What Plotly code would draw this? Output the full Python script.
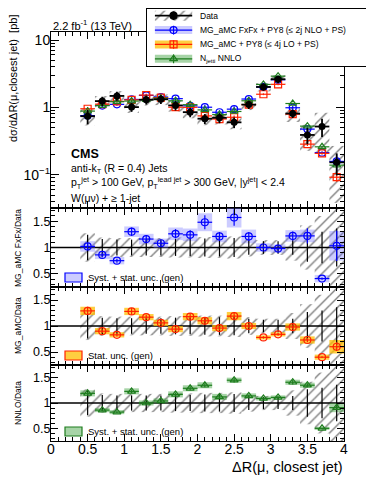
import plotly.graph_objects as go

# bins in Delta R (mu, closest jet), width 0.2
dr_centers = [0.5, 0.7, 0.9, 1.1, 1.3, 1.5, 1.7, 1.9, 2.1, 2.3, 2.5, 2.7, 2.9, 3.1, 3.3, 3.5, 3.7, 3.9]
bin_width = 0.2

# measured cross section [pb] and relative uncertainties
data_xsec = [0.74, 1.24, 1.48, 1.01, 1.30, 1.32, 1.07, 0.85, 0.68, 0.70, 0.60, 1.10, 2.01, 2.62, 0.81, 0.39, 0.52, 0.153]
data_stat = [0.24, 0.16, 0.15, 0.15, 0.15, 0.15, 0.16, 0.16, 0.17, 0.17, 0.18, 0.14, 0.12, 0.12, 0.14, 0.27, 0.30, 0.36]
data_syst = [0.27, 0.19, 0.18, 0.18, 0.18, 0.18, 0.19, 0.19, 0.20, 0.20, 0.21, 0.17, 0.14, 0.14, 0.25, 0.42, 0.60, 0.75]

# predictions [pb]
fxfx_xsec = [0.755, 1.066, 1.11, 1.313, 1.508, 1.426, 1.348, 1.054, 1.006, 0.847, 0.942, 1.331, 2.01, 2.568, 0.988, 0.476, 0.213, 0.158]
mg_xsec = [0.955, 1.116, 1.228, 1.293, 1.521, 1.399, 1.006, 1.003, 0.748, 0.672, 0.714, 1.10, 1.568, 2.20, 0.794, 0.285, 0.208, 0.092]
nnlo_xsec = [0.881, 1.066, 1.214, 1.242, 1.30, 1.373, 1.252, 1.097, 0.918, 0.784, 0.87, 1.254, 2.19, 2.91, 1.142, 0.527, 0.26, 0.139]

# prediction stat errors (relative) and uncertainty bands (ratio units)
fxfx_err = [0.07, 0.05, 0.05, 0.06, 0.06, 0.05, 0.07, 0.07, 0.09, 0.07, 0.10, 0.07, 0.04, 0.04, 0.07, 0.12, 0.05, 0.28]
mg_err = [0.06, 0.04, 0.04, 0.05, 0.04, 0.04, 0.05, 0.05, 0.06, 0.05, 0.06, 0.05, 0.03, 0.03, 0.05, 0.06, 0.04, 0.14]
nnlo_err = [0.03, 0.02, 0.02, 0.03, 0.02, 0.02, 0.03, 0.03, 0.03, 0.03, 0.03, 0.02, 0.02, 0.02, 0.03, 0.03, 0.02, 0.05]
fxfx_band = [0.10, 0.08, 0.07, 0.10, 0.10, 0.09, 0.12, 0.12, 0.17, 0.11, 0.19, 0.13, 0.08, 0.08, 0.11, 0.12, 0.07, 0.28]
mg_band = [0.08, 0.06, 0.05, 0.07, 0.06, 0.06, 0.06, 0.07, 0.07, 0.06, 0.08, 0.06, 0.04, 0.04, 0.07, 0.07, 0.05, 0.13]
nnlo_band = [0.06, 0.04, 0.04, 0.06, 0.05, 0.05, 0.06, 0.06, 0.06, 0.06, 0.05, 0.05, 0.04, 0.04, 0.05, 0.05, 0.03, 0.09]

# the page body has an 8px margin, so the figure is 8px smaller than the window
OFF = 8
W, H = 374 - OFF, 484 - OFF
FONT = "Liberation Sans, Arial, Helvetica, sans-serif"
BLUE, RED, GREEN = "#0000ff", "#ff2200", "#1e7d1e"
BLUE_F, ORANGE_F, GREEN_F = "rgba(110,110,255,0.35)", "rgba(255,190,0,0.75)", "rgba(60,160,60,0.45)"


def px(x):
    return (x - OFF) / W


def py(y):
    return 1 - (y - OFF) / H


hatch = dict(shape="/", fgcolor="#000000", bgcolor="rgba(0,0,0,0)", size=7, solidity=0.2)
nb = len(dr_centers)

fig = go.Figure()

# ---- main panel
fig.add_trace(go.Bar(x=dr_centers, y=[2 * d * s for d, s in zip(data_xsec, data_syst)],
                     base=[d * (1 - s) for d, s in zip(data_xsec, data_syst)], width=bin_width,
                     marker=dict(color="rgba(0,0,0,0)", line=dict(width=0), pattern=hatch),
                     xaxis="x", yaxis="y", showlegend=False))

preds = [("fxfx", fxfx_xsec, fxfx_err, fxfx_band, BLUE, BLUE_F, "circle-open", "x2", "y2"),
         ("mg", mg_xsec, mg_err, mg_band, RED, ORANGE_F, "square-open", "x3", "y3"),
         ("nnlo", nnlo_xsec, nnlo_err, nnlo_band, GREEN, GREEN_F, "triangle-up-open", "x4", "y4")]

for name, vals, err, band, col, fcol, sym, xa, ya in preds:
    fig.add_trace(go.Scatter(x=dr_centers, y=vals, mode="markers",
                             marker=dict(symbol=sym, size=7, color=col, line=dict(width=1.2, color=col)),
                             error_x=dict(type="constant", value=bin_width / 2, width=0, thickness=1.2, color=col),
                             error_y=dict(type="data", array=[v * e for v, e in zip(vals, err)], width=0,
                                          thickness=1.2, color=col),
                             xaxis="x", yaxis="y", showlegend=False))

fig.add_trace(go.Scatter(x=dr_centers, y=data_xsec, mode="markers",
                         marker=dict(symbol="circle", size=7, color="black"),
                         error_x=dict(type="constant", value=bin_width / 2, width=0, thickness=1.8, color="black"),
                         error_y=dict(type="data", array=[d * s for d, s in zip(data_xsec, data_stat)], width=0,
                                      thickness=1.8, color="black"),
                         xaxis="x", yaxis="y", showlegend=False))

# ---- ratio panels
for name, vals, err, band, col, fcol, sym, xa, ya in preds:
    ratio = [v / d for v, d in zip(vals, data_xsec)]
    fig.add_trace(go.Bar(x=dr_centers, y=[2 * s for s in data_syst], base=[1 - s for s in data_syst],
                         width=bin_width, marker=dict(color="rgba(0,0,0,0)", line=dict(width=0), pattern=hatch),
                         xaxis=xa, yaxis=ya, showlegend=False))
    fig.add_trace(go.Bar(x=dr_centers, y=[2 * b for b in band], base=[r - b for r, b in zip(ratio, band)],
                         width=bin_width, marker=dict(color=fcol, line=dict(width=0)),
                         xaxis=xa, yaxis=ya, showlegend=False))
    fig.add_trace(go.Scatter(x=dr_centers, y=[1] * nb, mode="markers", marker=dict(size=1, color="black"),
                             error_y=dict(type="data", array=data_stat, width=0, thickness=1.2, color="black"),
                             xaxis=xa, yaxis=ya, showlegend=False))
    rsym = "circle-open" if name != "nnlo" else sym
    fig.add_trace(go.Scatter(x=dr_centers, y=ratio, mode="markers",
                             marker=dict(symbol=rsym, size=7, color=col, line=dict(width=1.2, color=col)),
                             error_x=dict(type="constant", value=bin_width / 2, width=0, thickness=1.2, color=col),
                             error_y=dict(type="data", array=[r * e for r, e in zip(ratio, err)], width=0,
                                          thickness=1.2, color=col),
                             xaxis=xa, yaxis=ya, showlegend=False))
    fig.add_shape(type="line", xref=xa, yref=ya, x0=0, x1=4, y0=1, y1=1,
                  line=dict(color="black", width=1.3), layer="below")

# ---- legend (drawn on a helper axis so the box covers the frame)
leg_rows = [3.5, 2.5, 1.5, 0.5]
leg_labels = ["Data", "MG_aMC FxFx + PY8 (\u2264 2j NLO + PS)", "MG_aMC + PY8 (\u2264 4j LO + PS)",
              "N<sub>jetti</sub> NNLO"]
fig.add_trace(go.Bar(x=[0.5], y=[4], base=[0], width=[1], marker=dict(color="white", line=dict(width=0)),
                     xaxis="x5", yaxis="y5", showlegend=False, hoverinfo="skip"))
sx0, sx1 = 0.035, 0.2
sxc = (sx0 + sx1) / 2
fig.add_trace(go.Bar(x=[sxc], y=[0.7], base=[leg_rows[0] - 0.35], width=[sx1 - sx0],
                     marker=dict(color="rgba(0,0,0,0)", line=dict(width=0), pattern=hatch),
                     xaxis="x5", yaxis="y5", showlegend=False, hoverinfo="skip"))
leg_styles = [("black", None, "circle", 1.8)] + [(p[4], p[5], p[6], 1.2) for p in preds]
for row, (col, fcol, sym, lw) in zip(leg_rows, leg_styles):
    if fcol:
        fig.add_trace(go.Bar(x=[sxc], y=[0.56], base=[row - 0.28], width=[sx1 - sx0],
                             marker=dict(color=fcol, line=dict(width=0)),
                             xaxis="x5", yaxis="y5", showlegend=False, hoverinfo="skip"))
    fig.add_trace(go.Scatter(x=[sx0, sx1], y=[row, row], mode="lines", line=dict(color=col, width=lw),
                             xaxis="x5", yaxis="y5", showlegend=False, hoverinfo="skip"))
    fig.add_trace(go.Scatter(x=[sxc], y=[row], mode="markers",
                             marker=dict(symbol=sym, size=7, color=col, line=dict(width=1.2, color=col)),
                             error_y=dict(type="constant", value=0.3, width=0, thickness=lw, color=col),
                             xaxis="x5", yaxis="y5", showlegend=False, hoverinfo="skip"))
for row, lab in zip(leg_rows, leg_labels):
    fig.add_annotation(x=0.225, y=row, xref="x5", yref="y5", text=lab, showarrow=False,
                       xanchor="left", yanchor="middle", font=dict(size=8.5, family=FONT, color="black"))

# ---- axes
XD = [px(51), px(344)]
doms = {"": [py(208), py(32)], "2": [py(287), py(208)], "3": [py(365), py(287)], "4": [py(441), py(365)]}
for k, dom in doms.items():
    fig.update_layout(**{
        "xaxis" + k: dict(domain=XD, anchor="y" + k, range=[0, 4], dtick=0.5, tick0=0, ticks="inside",
                          ticklen=7, tickcolor="black", mirror="allticks", showline=True, linecolor="black",
                          linewidth=1, showgrid=False, zeroline=False, showticklabels=(k == "4"),
                          automargin=False, ticklabelstandoff=-5,
                          tickfont=dict(size=14, family=FONT, color="black"),
                          minor=dict(dtick=0.1, ticks="inside", ticklen=4, tickcolor="black", showgrid=False)),
    })
    if k == "":
        minor_vals = [m * 10.0 ** e for e in (-2, -1, 0, 1) for m in range(2, 10)]
        fig.update_layout(yaxis=dict(domain=dom, anchor="x", type="log", range=[-1.493, 1.119],
                                     tickmode="array", tickvals=[0.1, 1, 10],
                                     ticktext=["10<sup>\u22121</sup>", "1", "10"], ticks="inside", ticklen=8,
                                     tickcolor="black", mirror="allticks", showline=True, linecolor="black",
                                     linewidth=1, showgrid=False, zeroline=False, automargin=False,
                                     ticklabelstandoff=-3,
                                     tickfont=dict(size=14, family=FONT, color="black"),
                                     minor=dict(tickmode="array", tickvals=minor_vals, ticks="inside", ticklen=4,
                                                tickcolor="black", showgrid=False)))
    else:
        fig.update_layout(**{
            "yaxis" + k: dict(domain=dom, anchor="x" + k, range=[0.25, 1.75], dtick=0.5, tick0=0,
                              ticks="inside", ticklen=7, tickcolor="black", mirror="allticks", showline=True,
                              linecolor="black", linewidth=1, showgrid=False, zeroline=False, automargin=False,
                              ticklabelstandoff=-3,
                              tickfont=dict(size=12.5, family=FONT, color="black"),
                              minor=dict(dtick=0.1, ticks="inside", ticklen=4, tickcolor="black", showgrid=False)),
        })

fig.update_layout(
    xaxis5=dict(domain=[px(147), px(373)], anchor="y5", range=[0, 1], showline=True, mirror=True,
                linecolor="black", linewidth=1, showticklabels=False, ticks="", showgrid=False, zeroline=False,
                fixedrange=True, automargin=False),
    yaxis5=dict(domain=[py(66), py(8.5)], anchor="x5", range=[0, 4], showline=True, mirror=True,
                linecolor="black", linewidth=1, showticklabels=False, ticks="", showgrid=False, zeroline=False,
                fixedrange=True, automargin=False),
)

# ---- ratio panel band keys
keys = [(py(282), py(273), BLUE_F, BLUE, "Syst. + stat. unc. (gen)", 277.5),
        (py(360), py(351), ORANGE_F, RED, "Stat. unc. (gen)", 355.5),
        (py(436), py(427), GREEN_F, GREEN, "Syst. + stat. unc. (gen)", 431.5)]
for y0, y1, fcol, lcol, txt, yc in keys:
    fig.add_shape(type="rect", xref="paper", yref="paper", x0=px(65), x1=px(82), y0=y0, y1=y1,
                  fillcolor=fcol, line=dict(color=lcol, width=1.2))
    fig.add_annotation(x=px(86), y=py(yc), xref="paper", yref="paper", text=txt, showarrow=False,
                       xanchor="left", yanchor="middle", font=dict(size=9.5, family=FONT, color="black"))

# ---- texts
texts = [
    (px(51), py(25.5), "2.2 fb<sup>-1</sup> (13 TeV)", 11, "left"),
    (px(69), py(154), "<b>CMS</b>", 12.5, "left"),
    (px(69), py(169), "anti-k<sub>T</sub> (R = 0.4) Jets", 10.5, "left"),
    (px(69), py(183), "p<sub>T</sub><sup>jet</sup> > 100 GeV, p<sub>T</sub><sup>lead jet</sup> > 300 GeV, "
                      "|y<sup>jet</sup>| < 2.4", 10.5, "left"),
    (px(69), py(198), "W(\u03bc\u03bd) + \u2265 1-jet", 10.5, "left"),
    (px(345), py(467), "\u0394R(\u03bc, closest jet)", 14.5, "right"),
]
for x, y, t, s, anc in texts:
    fig.add_annotation(x=x, y=y, xref="paper", yref="paper", text=t, showarrow=False, xanchor=anc,
                       yanchor="middle", font=dict(size=s, family=FONT, color="black"))

ytitles = [(13, 79, "d\u03c3/d\u0394R(\u03bc,closest jet)  [pb]", 11),
           (18, 248, "MG_aMC FxFx/Data", 8.5),
           (18, 326, "MG_aMC/Data", 8.5),
           (18, 403, "NNLO/Data", 8.5)]
for x, y, t, s in ytitles:
    fig.add_annotation(x=px(x), y=py(y), xref="paper", yref="paper", text=t, showarrow=False, textangle=-90,
                       xanchor="center", yanchor="middle", font=dict(size=s, family=FONT, color="black"))

fig.update_layout(width=W, height=H, margin=dict(l=0, r=0, t=0, b=0), autosize=False,
                  paper_bgcolor="white", plot_bgcolor="white", barmode="overlay", showlegend=False,
                  font=dict(family=FONT, color="black"))

fig.write_html("out.html")
